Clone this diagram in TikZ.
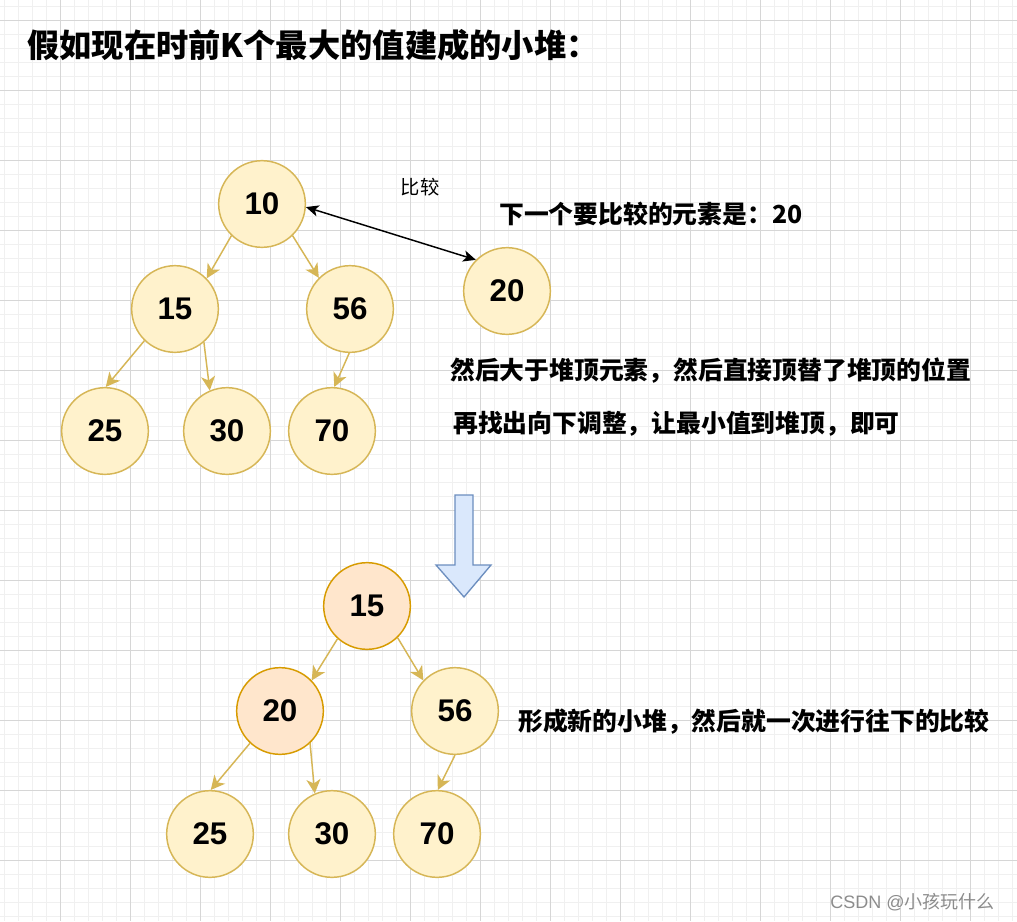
\documentclass[tikz,border=0pt]{standalone}
\usepackage{fontspec}
\setmainfont{Liberation Sans}
\newfontfamily\cjk{Noto Sans CJK SC}
\usetikzlibrary{arrows.meta}
\definecolor{yfill}{HTML}{FFF2CC}
\definecolor{ystroke}{HTML}{D6B656}
\definecolor{ofill}{HTML}{FFE6CC}
\definecolor{ostroke}{HTML}{D79B00}
\definecolor{bfill}{HTML}{DAE8FC}
\definecolor{bstroke}{HTML}{6C8EBF}
\definecolor{gmajor}{HTML}{D6D6D6}
\definecolor{gminor}{HTML}{F0F0F0}
\tikzset{
  heapnode/.style={circle, draw=ystroke, fill=yfill, line width=1.1pt, minimum size=65pt, inner sep=0pt,
    font=\fontsize{23.5pt}{27pt}\selectfont\bfseries},
  newnode/.style={heapnode, draw=ostroke, fill=ofill},
  heapedge/.style={draw=ystroke, line width=1.1pt, -{Stealth[length=10.5pt,width=10.5pt,inset=3pt]}},
  cmpedge/.style={draw=black, line width=1.1pt, {Stealth[length=9.5pt,width=8.5pt,inset=2.5pt]}-{Stealth[length=9.5pt,width=8.5pt,inset=2.5pt]}},
  note/.style={anchor=west, inner sep=0pt, font=\cjk\fontsize{18.6pt}{22pt}\selectfont\bfseries},
  minorline/.style={draw=gminor, line width=0.75pt},
  majorline/.style={draw=gmajor, line width=0.75pt}
}
\begin{document}
\begin{tikzpicture}[x=0.75pt, y=-0.75pt]
\useasboundingbox (0,0) rectangle (1017,921);
\fill[white] (0,0) rectangle (1017,921);
% grid
\foreach \i in {0,...,72} {\draw[minorline] ({4.5+14*\i},0) -- ({4.5+14*\i},921);}
\foreach \i in {0,...,66} {\draw[minorline] (0,{6+14*\i}) -- (1017,{6+14*\i});}
\foreach \i in {-1,...,14} {\draw[majorline] ({60.5+70*\i},0) -- ({60.5+70*\i},921);}
\foreach \i in {0,...,13} {\draw[majorline] (0,{20+70*\i}) -- (1017,{20+70*\i});}

% title
\node[anchor=west, inner sep=0pt, font=\cjk\fontsize{24.2pt}{28pt}\selectfont\bfseries] (title) at (27,45) {假如现在时前K个最大的值建成的小堆：};

% top heap
\node[heapnode] (a10) at (262,204) {10};
\node[heapnode] (a15) at (175,309) {15};
\node[heapnode] (a56) at (350,309) {56};
\node[heapnode] (a25) at (105,431) {25};
\node[heapnode] (a30) at (227,431) {30};
\node[heapnode] (a70) at (332,431) {70};
\node[heapnode] (a20) at (507,291) {20};

\draw[heapedge] (a10.226) -- (a15.44);
\draw[heapedge] (a10.-46) -- (a56.135);
\draw[heapedge] (a15.226) -- (a25.89);
\draw[heapedge] (a15.-49) -- (a30.113);
\draw[heapedge] (a56.-91) -- (a70.87);
\draw[cmpedge] (a10.-4) -- (a20.135);

\node[inner sep=0pt, font=\cjk\fontsize{14.5pt}{17pt}\selectfont] (cmp) at (420,187) {比较};
\node[note] (next) at (499,214) {下一个要比较的元素是：20};
\node[note] (line1) at (450,371) {然后大于堆顶元素，然后直接顶替了堆顶的位置};
\node[note] (line2) at (453,424) {再找出向下调整，让最小值到堆顶，即可};

% block arrow
\draw[draw=bstroke, fill=bfill, line width=1pt, line join=miter]
  (455,495) -- (473,495) -- (473,565) -- (491,565) -- (464,597) -- (436,565) -- (455,565) -- cycle;

% bottom heap
\node[newnode] (b15) at (367,606) {15};
\node[newnode] (b20) at (280,711) {20};
\node[heapnode] (b56) at (455,711) {56};
\node[heapnode] (b25) at (210,834) {25};
\node[heapnode] (b30) at (332,834) {30};
\node[heapnode] (b70) at (437,834) {70};

\draw[heapedge] (b15.228) -- (b20.44);
\draw[heapedge] (b15.-46) -- (b56.136);
\draw[heapedge] (b20.227) -- (b25.89);
\draw[heapedge] (b20.-47) -- (b30.113);
\draw[heapedge] (b56.-90) -- (b70.89);

\node[note] (line3) at (518,722) {形成新的小堆，然后就一次进行往下的比较};

\node[anchor=west, inner sep=0pt, text=black!45, font=\fontsize{13.5pt}{16pt}\selectfont] (mark) at (830,902) {CSDN @{\cjk 小孩玩什么}};
\end{tikzpicture}
\end{document}
